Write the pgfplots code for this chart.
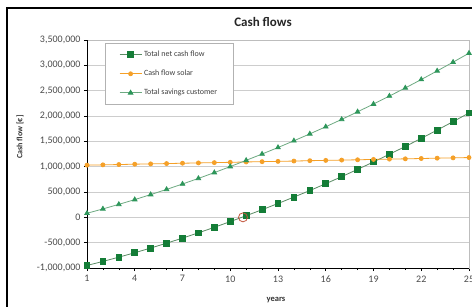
\documentclass[border=0pt]{standalone}
\usepackage{pgfplots}
\pgfplotsset{compat=1.18}
\usepackage{fontspec}
\setmainfont{Carlito}
\definecolor{netg}{RGB}{20,125,55}
\definecolor{netline}{RGB}{90,140,100}
\definecolor{solor}{RGB}{245,160,40}
\definecolor{savg}{RGB}{45,150,90}
\definecolor{savline}{RGB}{110,170,130}
\definecolor{gridg}{RGB}{205,205,205}
\begin{document}
\begin{tikzpicture}
\useasboundingbox (0,0) rectangle (472pt,-306pt);
\fill[white] (0,0) rectangle (472pt,-306pt);
\draw[black,line width=1.6pt] (7pt,-8pt) rectangle (490pt,-320pt);
\begin{axis}[
  at={(87pt,-268pt)}, anchor=south west,
  scale only axis, width=382pt, height=228pt,
  xmin=1, xmax=25, ymin=-1000000, ymax=3500000,
  xtick={1,4,...,25}, minor xtick={1,...,25},
  ytick={-1000000,-500000,...,3500000},
  tick pos=left, tick align=outside,
  major tick length=3pt, minor tick length=2pt,
  every tick/.style={black, line width=0.5pt},
  axis line style={gridg!80!gray, line width=0.6pt},
  ymajorgrids, grid style={gridg, line width=0.6pt},
  scaled y ticks=false,
  ticklabel style={font=\fontsize{10}{12}\selectfont, text=black!70},
  /pgf/number format/assume math mode=true,
  yticklabel style={/pgf/number format/.cd, fixed, 1000 sep={,}},
  xticklabel style={yshift=-1pt},
  clip=false,
  legend cell align=left,
  legend style={at={(0.047,0.987)}, anchor=north west, draw=gray!60, line width=0.5pt,
    font=\fontsize{8}{10}\selectfont, inner xsep=14pt, inner ysep=6pt, row sep=8pt,
    text=black!75},
  legend image code/.code={\draw[mark repeat=2,mark phase=2] plot coordinates {(0pt,0pt) (11pt,0pt) (22pt,0pt)};},
]
\addplot[color=netline, line width=0.8pt, mark=square*, mark size=2.9pt,
  mark options={draw=netg, fill=netg}] coordinates {
(1,-950000) (2,-870000) (3,-786000) (4,-699000) (5,-606000) (6,-510000)
(7,-410000) (8,-306000) (9,-197000) (10,-84000) (11,32000) (12,151000)
(13,273000) (14,400000) (15,529000) (16,664000) (17,803000) (18,947000)
(19,1093000) (20,1245000) (21,1399000) (22,1559000) (23,1722000) (24,1889000) (25,2060000)};
\addlegendentry{Total net cash flow}
\addplot[color=solor, line width=0.8pt, mark=*, mark size=2pt,
  mark options={draw=solor, fill=solor}] coordinates {
(1,1030000) (2,1036000) (3,1042000) (4,1049000) (5,1055000) (6,1061000)
(7,1068000) (8,1074000) (9,1080000) (10,1086000) (11,1093000) (12,1099000)
(13,1105000) (14,1111000) (15,1118000) (16,1124000) (17,1130000) (18,1136000)
(19,1143000) (20,1149000) (21,1155000) (22,1161000) (23,1168000) (24,1174000) (25,1180000)};
\addlegendentry{Cash flow solar}
\addplot[color=savline, line width=0.8pt, mark=triangle*, mark size=2.6pt,
  mark options={draw=savg, fill=savg}] coordinates {
(1,80000) (2,166000) (3,256000) (4,350000) (5,449000) (6,551000)
(7,658000) (8,768000) (9,883000) (10,1002000) (11,1125000) (12,1250000)
(13,1378000) (14,1511000) (15,1647000) (16,1788000) (17,1933000) (18,2083000)
(19,2236000) (20,2394000) (21,2554000) (22,2720000) (23,2890000) (24,3063000) (25,3240000)};
\addlegendentry{Total savings customer}
\addplot[only marks, mark=o, mark size=4.5pt, mark options={draw={rgb,255:red,195;green,85;blue,60}, line width=0.8pt}, forget plot] coordinates {(10.8,0)};
\draw[black, line width=0.7pt] (rel axis cs:0,1) -- (rel axis cs:0,0) -- (rel axis cs:1,0);
\end{axis}
\node[font=\bfseries\fontsize{13}{15}\selectfont, text=black!85] at (263pt,-22pt) {Cash flows};
\node[font=\bfseries\fontsize{8.5}{10}\selectfont, text=black!80] at (276pt,-300pt) {years};
\node[font=\bfseries\fontsize{8}{10}\selectfont, text=black!80, rotate=90] at (20pt,-137pt) {Cash flow [€]};
\end{tikzpicture}
\end{document}
